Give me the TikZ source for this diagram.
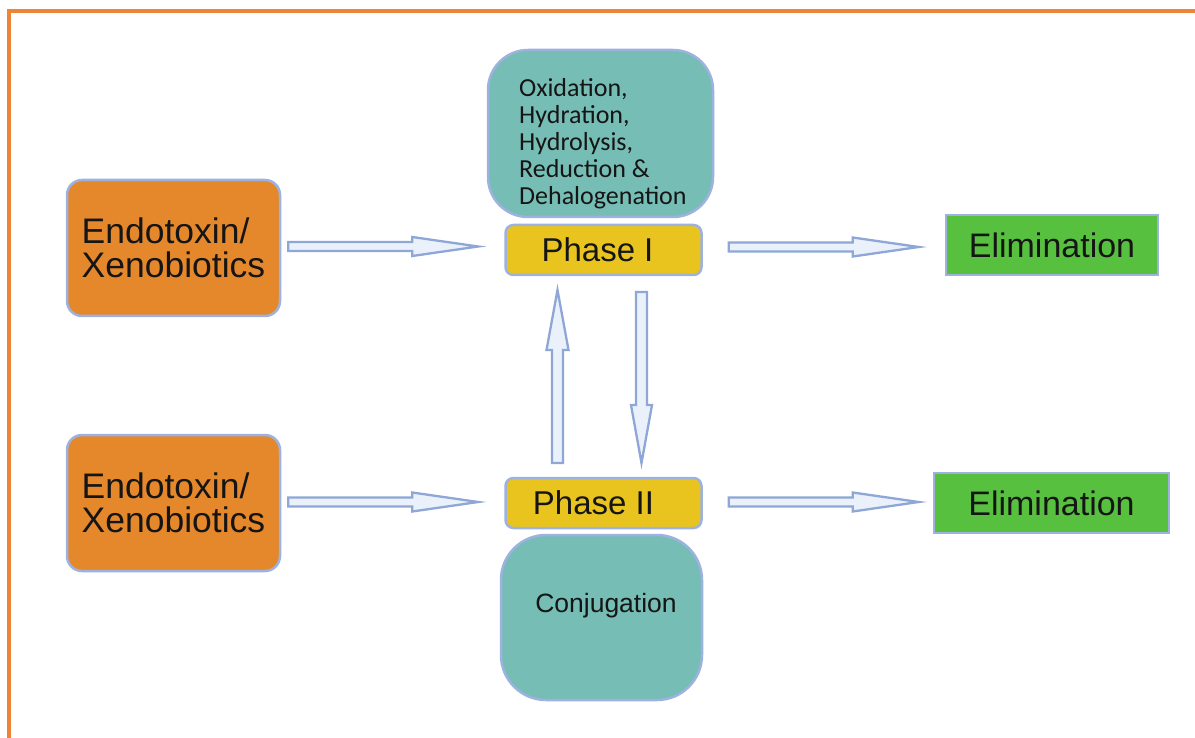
\documentclass[tikz,border=0pt]{standalone}
\usepackage{fontspec}
\setmainfont{Liberation Sans}
\newfontfamily\calib{Carlito}
\usetikzlibrary{calc}
\definecolor{frameor}{HTML}{EE8535}
\definecolor{boxor}{HTML}{E5882C}
\definecolor{edgeblue}{HTML}{9DB2DE}
\definecolor{tealc}{HTML}{75BDB5}
\definecolor{yellowc}{HTML}{E9C41E}
\definecolor{greenc}{HTML}{58C03F}
\definecolor{arrstroke}{HTML}{8EA7D6}
\definecolor{arrfill}{HTML}{EAF1FB}
\definecolor{txt}{HTML}{151515}
\newcommand\bkarrow[5]{%
  \path coordinate (hb) at ($(#2)!#3!(#1)$);
  \draw[barrow] ($(#1)!#4!90:(#2)$) -- ($(hb)!#4!90:(#2)$) -- ($(hb)!#5!90:(#2)$) -- (#2)
    -- ($(hb)!#5!-90:(#2)$) -- ($(hb)!#4!-90:(#2)$) -- ($(#1)!#4!-90:(#2)$) -- cycle;}
\begin{document}
\begin{tikzpicture}[x=1pt,y=-1pt,
  boxbase/.style={draw=edgeblue,line width=2.5pt,inner sep=0pt,text=txt},
  srcbox/.style={boxbase,fill=boxor,rounded corners=15pt,minimum width=213pt,minimum height=136pt,align=left,font=\fontsize{35.5}{34}\selectfont},
  phasebox/.style={boxbase,fill=yellowc,rounded corners=8pt,minimum width=196pt,minimum height=50pt,font=\fontsize{33}{36}\selectfont},
  tealbox/.style={boxbase,fill=tealc},
  elimbox/.style={boxbase,fill=greenc,minimum height=60pt,font=\fontsize{34}{36}\selectfont},
  barrow/.style={draw=arrstroke,fill=arrfill,line width=2.3pt,line join=miter}]
\useasboundingbox (0,0) rectangle (1195,738);
\fill[white] (0,0) rectangle (1195,738);
% frame
\draw[frameor,line width=4pt] (8.7,760) -- (8.7,11) -- (1220,11);
% boxes
\node[srcbox] (e1) at (173.5,248) {Endotoxin/\\Xenobiotics};
\node[srcbox] (e2) at (173.5,503) {Endotoxin/\\Xenobiotics};
\node[phasebox] (p1) at (603.5,250) {Phase I\kern12pt};
\node[phasebox] (p2) at (603.5,503) {Phase II\kern20pt};
\node[tealbox,rounded corners=40pt,minimum width=225pt,minimum height=167pt] (t1) at (600.5,133.5) {};
\node[text=txt,align=left,inner sep=0pt,anchor=north west,font=\calib\fontsize{26}{27}\selectfont] (t1txt) at (519,78) {Oxidation,\\Hydration,\\Hydrolysis,\\Reduction \&\\Dehalogenation};
\node[tealbox,rounded corners=45pt,minimum width=201pt,minimum height=165pt] (t2) at (601.5,617.5) {};
\node[text=txt,inner sep=0pt,font=\fontsize{26.5}{27}\selectfont] (t2txt) at (606,606) {Conjugation};
\node[elimbox,minimum width=212pt] (l1) at (1052,245) {Elimination};
\node[elimbox,minimum width=235pt] (l2) at (1051.5,503) {Elimination};
% arrow end points
\coordinate (a1s) at ($(e1.east)+(7,-1.5)$);
\coordinate (a1e) at ($(p1.west)+(-26,-3.5)$);
\coordinate (a2s) at ($(e2.east)+(7,-1)$);
\coordinate (a2e) at ($(p2.west)+(-26,-1)$);
\coordinate (a3s) at ($(p1.east)+(26,-3)$);
\coordinate (a3e) at ($(l1.west)+(-26,2)$);
\coordinate (a4s) at ($(p2.east)+(26,-1)$);
\coordinate (a4e) at ($(l2.west)+(-14,-1)$);
\coordinate (a5s) at (557.5,463);
\coordinate (a5e) at (557.5,290);
\coordinate (a6s) at (641.5,292);
\coordinate (a6e) at (641.5,463);
\bkarrow{a1s}{a1e}{66pt}{4.5pt}{9.5pt}
\bkarrow{a2s}{a2e}{66pt}{4.5pt}{9.5pt}
\bkarrow{a3s}{a3e}{66pt}{4.5pt}{9.5pt}
\bkarrow{a4s}{a4e}{66pt}{4.5pt}{9.5pt}
\bkarrow{a5s}{a5e}{60pt}{5.5pt}{11pt}
\bkarrow{a6s}{a6e}{58pt}{5.5pt}{10.5pt}
\end{tikzpicture}
\end{document}
